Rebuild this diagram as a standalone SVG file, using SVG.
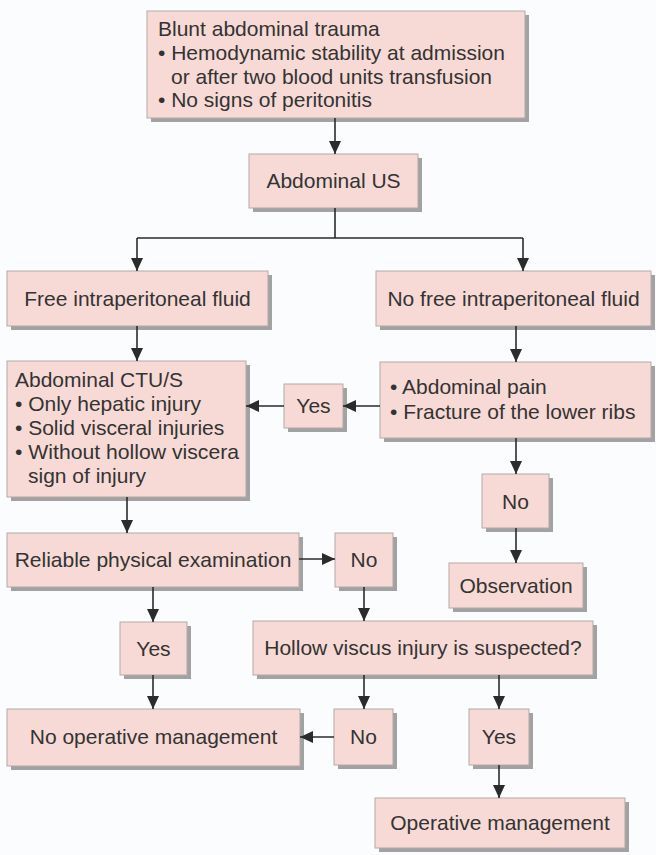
<svg xmlns="http://www.w3.org/2000/svg" width="656" height="855" viewBox="0 0 656 855">
<defs>
<marker id="ah" markerUnits="userSpaceOnUse" markerWidth="13" markerHeight="12" refX="13" refY="6" orient="auto">
<path d="M0,0 L13,6 L0,12 z" fill="#2b2b2b"/>
</marker>
</defs>
<style>
.s{fill:#a2a2a2}
.b{fill:#f7dad5;stroke:#b3aaa8;stroke-width:1}
text{font-family:"Liberation Sans",Arial,sans-serif;font-size:21px;fill:#333}
.c{text-anchor:middle}
.ln{fill:none;stroke:#2b2b2b;stroke-width:1.6}
.ar{marker-end:url(#ah)}
</style>
<rect width="656" height="855" fill="#fbfcfd"/>

<g id="n1"><rect class="s" x="151" y="15" width="378" height="107"/><rect class="b" x="147" y="11" width="378" height="107"/>
<text x="158" y="36">Blunt abdominal trauma</text>
<text x="158" y="60">• Hemodynamic stability at admission</text>
<text x="171" y="84">or after two blood units transfusion</text>
<text x="158" y="107">• No signs of peritonitis</text></g>

<g id="n2"><rect class="s" x="253" y="158" width="169" height="54"/><rect class="b" x="249" y="154" width="169" height="54"/>
<text class="c" x="333.5" y="188">Abdominal US</text></g>

<g id="n3"><rect class="s" x="11" y="275" width="261" height="55"/><rect class="b" x="7" y="271" width="261" height="55"/>
<text class="c" x="137.5" y="306">Free intraperitoneal fluid</text></g>

<g id="n4"><rect class="s" x="380" y="275" width="275" height="55"/><rect class="b" x="376" y="271" width="275" height="55"/>
<text class="c" x="513.5" y="306">No free intraperitoneal fluid</text></g>

<g id="n5"><rect class="s" x="11" y="365" width="239" height="136"/><rect class="b" x="7" y="361" width="239" height="136"/>
<text x="15" y="387">Abdominal CTU/S</text>
<text x="15" y="411">• Only hepatic injury</text>
<text x="15" y="435">• Solid visceral injuries</text>
<text x="15" y="459" textLength="224" lengthAdjust="spacingAndGlyphs">• Without hollow viscera</text>
<text x="28" y="483">sign of injury</text></g>

<g id="n6"><rect class="s" x="384" y="366" width="271" height="76"/><rect class="b" x="380" y="362" width="271" height="76"/>
<text x="390" y="394">• Abdominal pain</text>
<text x="390" y="419">• Fracture of the lower ribs</text></g>

<g id="n7"><rect class="s" x="288" y="388" width="59" height="44"/><rect class="b" x="284" y="384" width="59" height="44"/>
<text class="c" x="313.5" y="413">Yes</text></g>

<g id="n8"><rect class="s" x="486" y="478" width="67" height="54"/><rect class="b" x="482" y="474" width="67" height="54"/>
<text class="c" x="515.5" y="509">No</text></g>

<g id="n9"><rect class="s" x="453" y="567" width="134" height="45"/><rect class="b" x="449" y="563" width="134" height="45"/>
<text class="c" x="516" y="593">Observation</text></g>

<g id="n10"><rect class="s" x="11" y="537" width="292" height="54"/><rect class="b" x="7" y="533" width="292" height="54"/>
<text class="c" x="153" y="567">Reliable physical examination</text></g>

<g id="n11"><rect class="s" x="339" y="537" width="58" height="54"/><rect class="b" x="335" y="533" width="58" height="54"/>
<text class="c" x="364" y="567">No</text></g>

<g id="n12"><rect class="s" x="124" y="626" width="67" height="53"/><rect class="b" x="120" y="622" width="67" height="53"/>
<text class="c" x="153.5" y="656">Yes</text></g>

<g id="n13"><rect class="s" x="257" y="625" width="340" height="54"/><rect class="b" x="253" y="621" width="340" height="54"/>
<text class="c" x="423" y="655">Hollow viscus injury is suspected?</text></g>

<g id="n14"><rect class="s" x="11" y="713" width="293" height="57"/><rect class="b" x="7" y="709" width="293" height="57"/>
<text class="c" x="153.5" y="744">No operative management</text></g>

<g id="n15"><rect class="s" x="338" y="713" width="59" height="56"/><rect class="b" x="334" y="709" width="59" height="56"/>
<text class="c" x="363.5" y="744">No</text></g>

<g id="n16"><rect class="s" x="473" y="713" width="60" height="56"/><rect class="b" x="469" y="709" width="60" height="56"/>
<text class="c" x="499" y="744">Yes</text></g>

<g id="n17"><rect class="s" x="379" y="802" width="250" height="50"/><rect class="b" x="375" y="798" width="250" height="50"/>
<text class="c" x="500" y="830">Operative management</text></g>

<g id="connectors">
<path class="ln ar" d="M335,118 V154"/>
<path class="ln" d="M335,208 V238 M137,238 H523"/>
<path class="ln ar" d="M137,238 V271"/>
<path class="ln ar" d="M523,238 V271"/>
<path class="ln ar" d="M137,326 V361"/>
<path class="ln ar" d="M516,326 V362"/>
<path class="ln ar" d="M380,406 H343"/>
<path class="ln ar" d="M284,406 H246"/>
<path class="ln ar" d="M516,438 V474"/>
<path class="ln ar" d="M516,528 V563"/>
<path class="ln ar" d="M127,497 V533"/>
<path class="ln ar" d="M299,559 H335"/>
<path class="ln ar" d="M153,587 V622"/>
<path class="ln ar" d="M364,587 V621"/>
<path class="ln ar" d="M153,675 V709"/>
<path class="ln ar" d="M364,675 V709"/>
<path class="ln ar" d="M499,675 V709"/>
<path class="ln ar" d="M334,737 H300"/>
<path class="ln ar" d="M499,765 V798"/>
</g>
</svg>
